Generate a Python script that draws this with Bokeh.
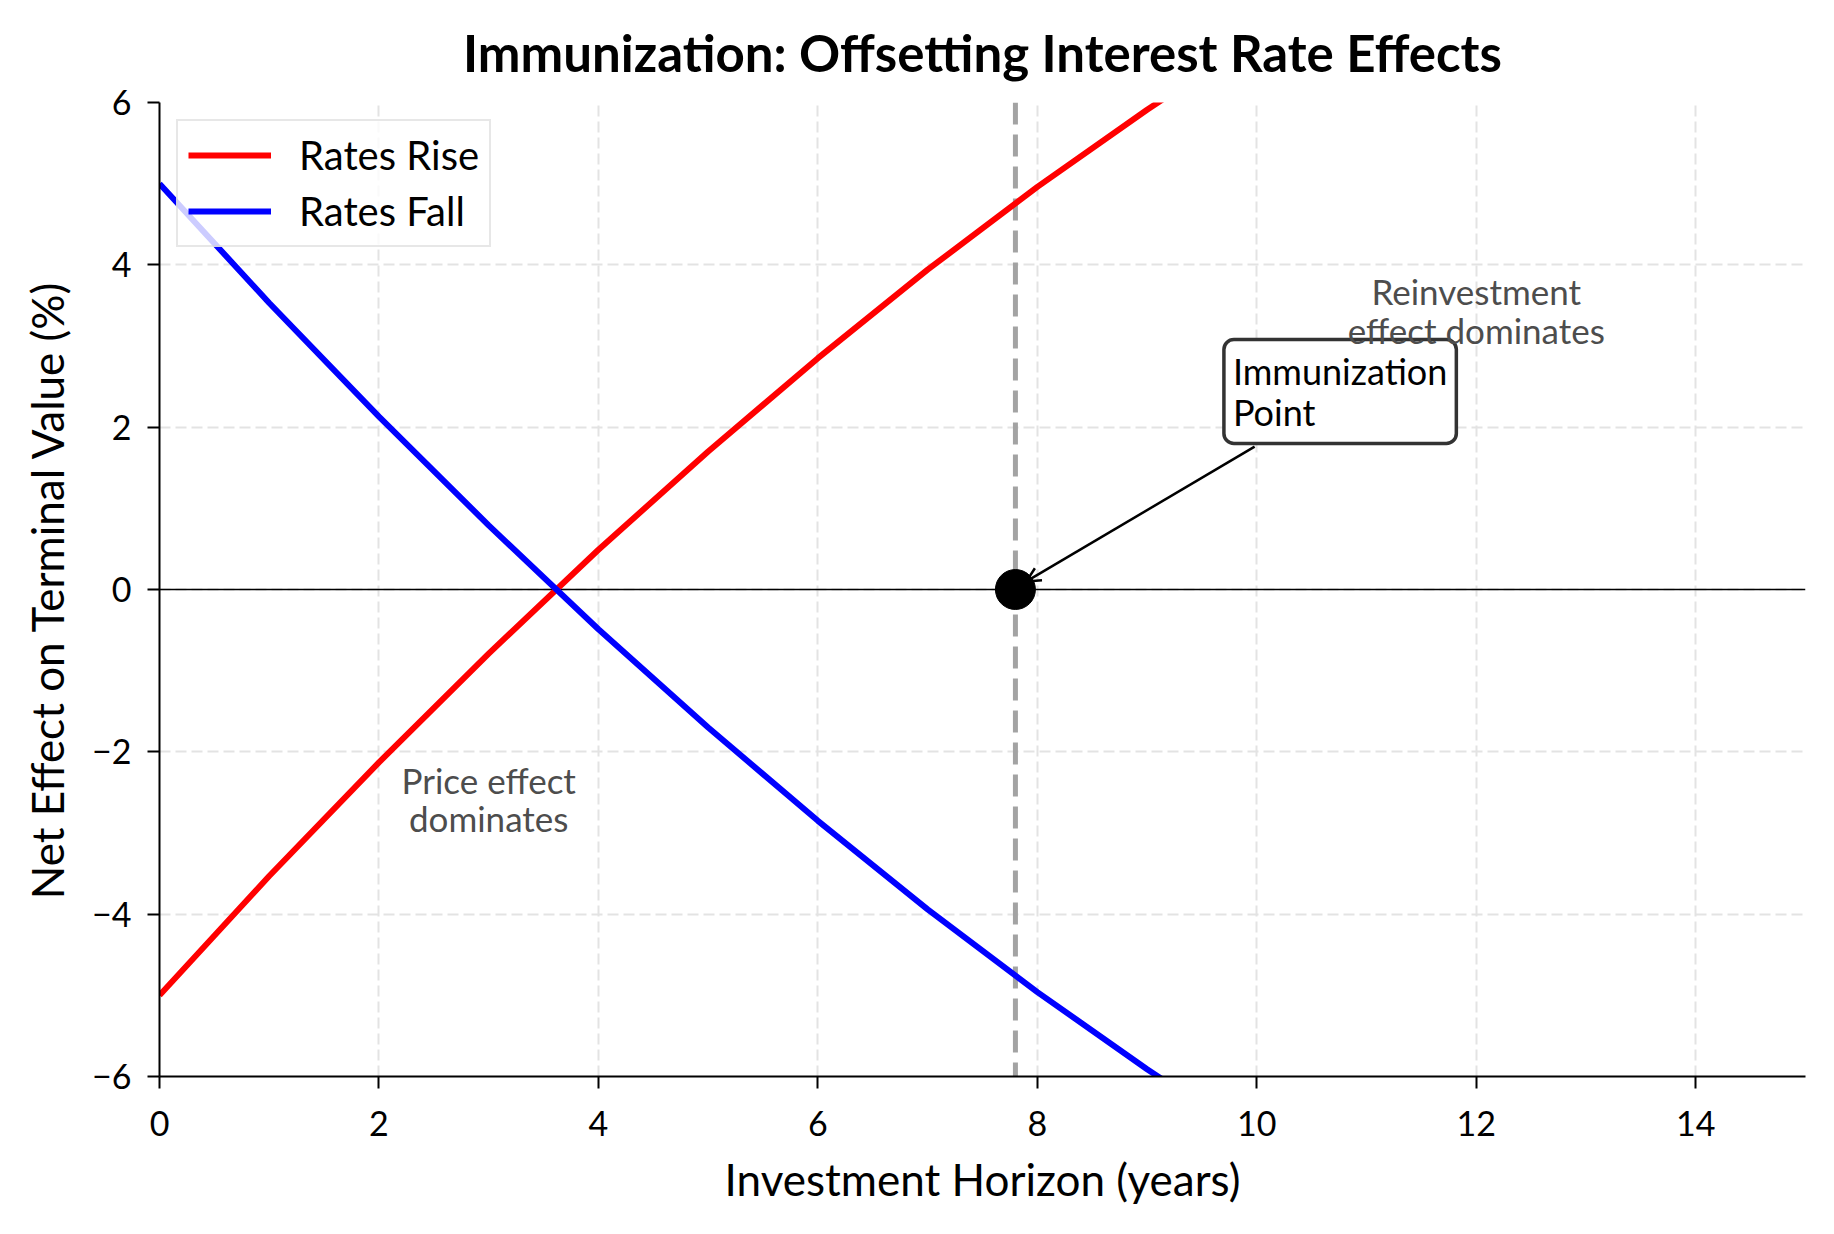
from bokeh.plotting import figure
from bokeh.models import (Span, Label, Arrow, OpenHead, Legend, LegendItem,
                          FixedTicker, Range1d, ColumnDataSource)
from bokeh.embed import file_html
from bokeh.resources import INLINE

# ---- data ----
horizon = [0, 1, 2, 3, 4, 5, 6, 7, 8, 9, 10]
rates_rise = [-5.00, -3.53, -2.13, -0.79, 0.49, 1.70, 2.85, 3.94, 4.96, 5.91, 6.81]
rates_fall = [5.00, 3.53, 2.13, 0.79, -0.49, -1.70, -2.85, -3.94, -4.96, -5.91, -6.81]
immunization_x = [7.8]
immunization_y = [0.0]
x_ticks = [0, 2, 4, 6, 8, 10, 12, 14]
y_ticks = [-6, -4, -2, 0, 2, 4, 6]

FONT = "Lato"

p = figure(width=1818, height=1218, output_backend="svg", toolbar_location=None,
           x_range=Range1d(0, 15), y_range=Range1d(-6, 6),
           min_border_left=159, min_border_right=13, min_border_top=101,
           min_border_bottom=142)
p.outline_line_color = None

p.title.text = "Immunization: Offsetting Interest Rate Effects"
p.title.align = "center"
p.title.text_font = FONT
p.title.text_font_size = "51px"
p.title.text_font_style = "bold"
p.title.text_color = "black"
p.title.standoff = 39

for ax in (p.xaxis[0], p.yaxis[0]):
    ax.axis_line_width = 2
    ax.major_tick_line_width = 2
    ax.major_tick_out = 12
    ax.major_tick_in = 0
    ax.minor_tick_line_color = None
    ax.major_label_text_font = FONT
    ax.major_label_text_font_size = "34px"
    ax.major_label_text_color = "black"
    ax.axis_label_text_font = FONT
    ax.axis_label_text_font_size = "44px"
    ax.axis_label_text_font_style = "normal"
    ax.axis_label_text_color = "black"

p.xaxis.ticker = FixedTicker(ticks=x_ticks)
p.yaxis.ticker = FixedTicker(ticks=y_ticks)
p.yaxis.major_label_overrides = {t: (str(t).replace("-", "\u2212")) for t in y_ticks}
p.xaxis.axis_label = "Investment Horizon (years)"
p.yaxis.axis_label = "Net Effect on Terminal Value (%)"
p.xaxis.major_label_standoff = 22
p.yaxis.major_label_standoff = 16
p.xaxis.axis_label_standoff = 14
p.yaxis.axis_label_standoff = 16

for g in (p.xgrid[0], p.ygrid[0]):
    g.grid_line_color = "#e3e3e3"
    g.grid_line_width = 2
    g.grid_line_dash = "11 5"

p.add_layout(Span(location=0, dimension="width", line_color="black", line_width=1.5,
                  level="underlay"))
p.add_layout(Span(location=immunization_x[0], dimension="height", line_color="#a3a3a3",
                  line_width=5, line_dash="22 10", level="underlay"))

src = ColumnDataSource(dict(x=horizon, rise=rates_rise, fall=rates_fall))
r_rise = p.line("x", "rise", source=src, line_color="#ff0000", line_width=6)
r_fall = p.line("x", "fall", source=src, line_color="#0000ff", line_width=6)

p.scatter(immunization_x, immunization_y, size=40, color="black")

p.add_layout(Arrow(end=OpenHead(size=14, line_width=2.5, line_color="black"),
                   x_start=9.98, y_start=1.76, x_end=7.90, y_end=0.10,
                   line_width=2.5, line_color="black"))

p.add_layout(Label(x=9.70, y=1.80, text="Immunization\nPoint", anchor="bottom_left",
                   text_font=FONT, text_font_size="36px", text_color="black",
                   text_line_height=0.95,
                   background_fill_color="white", border_line_color="#333333",
                   border_line_width=3.5, border_radius=10, padding=9))

p.add_layout(Label(x=12.0, y=3.44, text="Reinvestment\neffect dominates",
                   text_align="center", text_baseline="middle",
                   text_font=FONT, text_font_size="35px", text_color="#4d4d4d",
                   text_line_height=0.92))
p.add_layout(Label(x=3.0, y=-2.58, text="Price effect\ndominates",
                   text_align="center", text_baseline="middle",
                   text_font=FONT, text_font_size="35px", text_color="#4d4d4d",
                   text_line_height=0.92))

legend = Legend(items=[LegendItem(label="Rates Rise", renderers=[r_rise]),
                       LegendItem(label="Rates Fall", renderers=[r_fall])],
                location="top_left", margin=17, padding=10, spacing=8,
                glyph_width=83, glyph_height=40, label_height=40,
                label_standoff=28, label_text_font=FONT, label_text_font_size="40px",
                label_text_color="black", border_line_color="#d0d0d0",
                border_line_width=2.5, background_fill_alpha=0.8)
p.add_layout(legend)

open("out.html", "w").write(file_html(p, INLINE))
